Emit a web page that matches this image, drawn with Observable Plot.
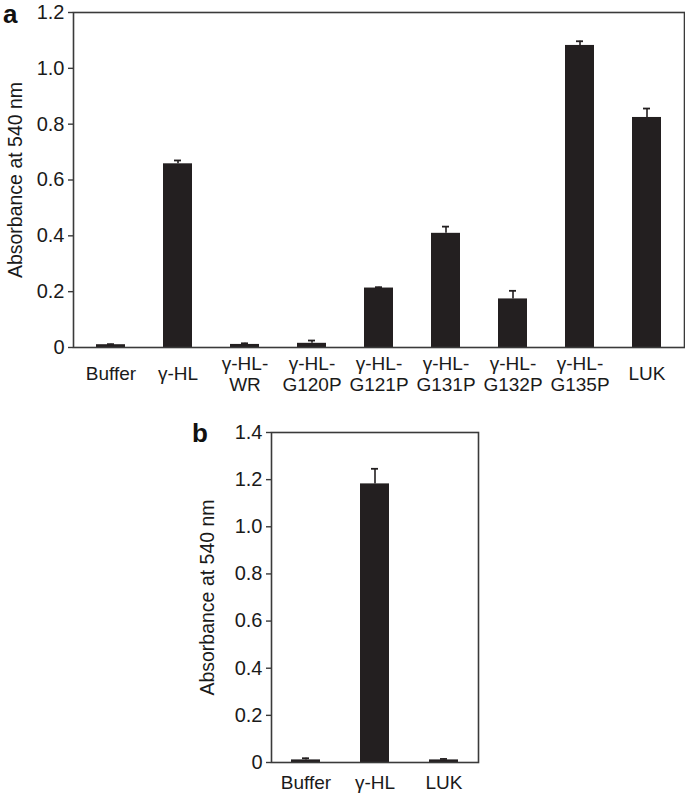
<!DOCTYPE html>
<html><head><meta charset="utf-8">
<script src="https://cdn.jsdelivr.net/npm/d3@7"></script>
<script src="https://cdn.jsdelivr.net/npm/@observablehq/plot@0.6"></script>
<style>
body{margin:0;background:#fff;font-family:"Liberation Sans",Arial,sans-serif;}
#wrap{position:relative;width:685px;height:794px;overflow:hidden;}
.panel{position:absolute;left:0;}
.tag{position:absolute;font-weight:bold;font-size:26px;line-height:1;color:#111;}
</style></head><body>
<div id="wrap">
<div id="pa" class="panel" style="top:0"></div>
<div id="pb" class="panel" style="top:420px"></div>
<div class="tag" style="left:3px;top:1px">a</div>
<div class="tag" style="left:192px;top:420px">b</div>
</div>
<script>
const categoriesA = ["Buffer","γ-HL","γ-HL-\nWR","γ-HL-\nG120P","γ-HL-\nG121P","γ-HL-\nG131P","γ-HL-\nG132P","γ-HL-\nG135P","LUK"];
const valuesA = [0.010, 0.658, 0.011, 0.015, 0.213, 0.409, 0.174, 1.082, 0.824];
const errorsA = [0.002, 0.012, 0.004, 0.010, 0.003, 0.024, 0.029, 0.015, 0.032];
const ticksA = [0, 0.2, 0.4, 0.6, 0.8, 1.0, 1.2];

const categoriesB = ["Buffer","γ-HL","LUK"];
const valuesB = [0.011, 1.182, 0.011];
const errorsB = [0.007, 0.064, 0.004];
const ticksB = [0, 0.2, 0.4, 0.6, 0.8, 1.0, 1.2, 1.4];

const yTitle = "Absorbance at 540 nm";
const font = "Liberation Sans, Arial, Helvetica, sans-serif";

function panel({cats, vals, errs, ticks, width, height, ml, mr, mt, mb, pad, labelDy, titleDx}) {
  const data = cats.map((c, i) => ({c, v: vals[i], e: errs[i], top: vals[i] + errs[i]}));
  return Plot.plot({
    width, height,
    marginLeft: ml, marginRight: mr, marginTop: mt, marginBottom: mb,
    style: {fontFamily: font, fontSize: "19px", color: "#1a1a1a", background: "#fff", overflow: "visible"},
    x: {type: "band", domain: cats, paddingInner: pad, paddingOuter: pad / 2, axis: null},
    y: {domain: [ticks[0], ticks[ticks.length - 1]], axis: null},
    marks: [
      Plot.barY(data, {x: "c", y: "v", fill: "#231f20"}),
      Plot.ruleX(data, {x: "c", y1: "v", y2: "top", stroke: "#231f20", strokeWidth: 1.6}),
      Plot.tickY(data, {x: "c", y: "top", stroke: "#231f20", strokeWidth: 1.8, inset: 11}),
      Plot.frame({stroke: "#3a3a3a", strokeWidth: 1.6}),
      Plot.axisY({ticks, tickSize: 5, tickPadding: 4, stroke: "#3a3a3a", strokeWidth: 1.4,
        tickFormat: d => d === 0 ? "0" : d.toFixed(1), fontSize: 20, label: null}),
      Plot.text([yTitle], {frameAnchor: "left", rotate: -90, dx: titleDx, text: d => d,
        fontSize: 19.5, textAnchor: "middle", lineAnchor: "middle", fill: "#1a1a1a"}),
      Plot.text(data, {x: "c", frameAnchor: "bottom", dy: labelDy, text: "c",
        lineAnchor: "middle", fontSize: 19, lineHeight: 1.12, fill: "#1a1a1a"})
    ]
  });
}

document.getElementById("pa").append(panel({
  cats: categoriesA, vals: valuesA, errs: errorsA, ticks: ticksA,
  width: 685, height: 412, ml: 73, mr: 1, mt: 12, mb: 65, pad: 0.573, labelDy: 26, titleDx: -58
}));
document.getElementById("pb").append(panel({
  cats: categoriesB, vals: valuesB, errs: errorsB, ticks: ticksB,
  width: 685, height: 374, ml: 271, mr: 207, mt: 12, mb: 32, pad: 0.58, labelDy: 20, titleDx: -64
}));
</script>
</body></html>
